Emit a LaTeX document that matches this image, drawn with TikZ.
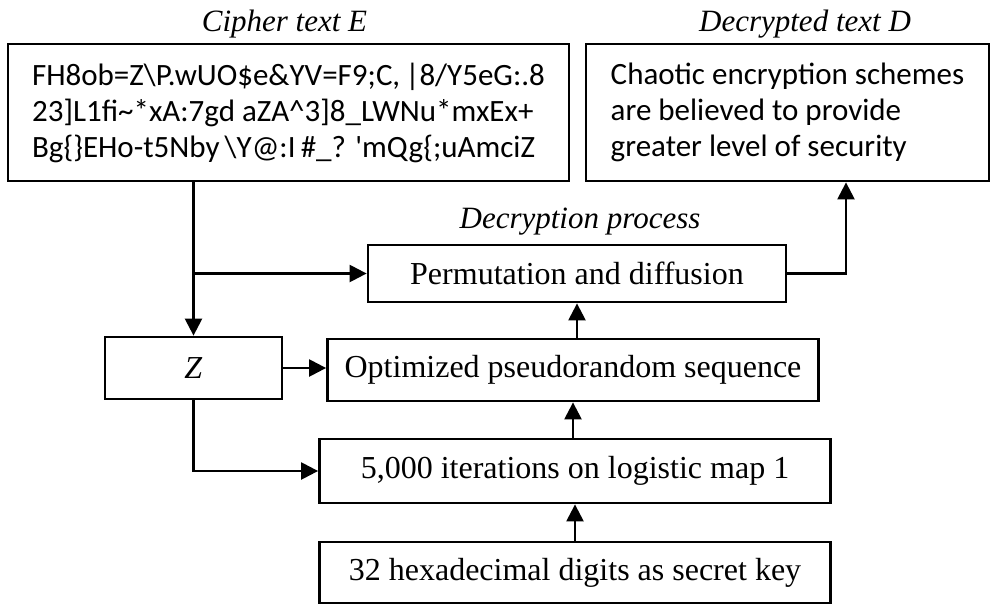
\documentclass[tikz,border=0pt]{standalone}
\usepackage{fontspec}
\setmainfont{Liberation Serif}
\newfontfamily\calfont{Carlito}
\usepackage{tikz}
\usetikzlibrary{positioning, arrows.meta, calc}

\tikzset{
  box/.style={draw, line width=2.8pt, inner sep=0pt, font=\fontsize{32}{36}\selectfont},
  txtbox/.style={box, align=left, font=\calfont\fontsize{31}{36}\selectfont},
  lbl/.style={font=\itshape\fontsize{31}{36}\selectfont, inner sep=0pt, anchor=base},
  arr/.style={line width=2.4pt, -{Triangle[length=17pt,width=17pt]}},
}

\begin{document}
\begin{tikzpicture}[x=1pt, y=-1pt]
                  \useasboundingbox (0,0) rectangle (999,611);
                  % Nodes
                  \node[txtbox, minimum width=561pt, minimum height=137pt] (cipher) at (288.5,112.5)
                    {FH8ob=Z\textbackslash P.wUO\$e\&YV=F9;C,\,|8/Y5eG:.8\\
                     23]L1fi\textasciitilde*xA:7gd aZA\textasciicircum 3]8\_LWNu*mxEx+\\
                     Bg\{\}EHo-t5Nby\,\textbackslash Y@:I\,\#\_? \textquotesingle mQg\{;uAmciZ};
                  \node[txtbox, minimum width=403pt, minimum height=137pt] (plain) at (787.5,112.5)
                    {Chaotic encryption schemes\\ are believed to provide\\ greater level of security};
                  \node[lbl] (cipherlbl) at (284.5,31) {Cipher text E};
                  \node[lbl] (plainlbl) at (805,31) {Decrypted text D};
                  \node[lbl] (proclbl) at (580,228) {Decryption process};
                  \node[box, minimum width=418pt, minimum height=57pt] (perm) at (577,273.5) {Permutation and diffusion};
                  \node[box, minimum width=177pt, minimum height=62pt] (zbox) at (193.5,368) {\textit{Z}};
                  \node[box, minimum width=491pt, minimum height=62pt] (seq) at (573,370) {Optimized pseudorandom sequence};
                  \node[box, minimum width=511pt, minimum height=64pt] (iter) at (575,471) {5,000 iterations on logistic map 1};
                  \node[box, minimum width=511pt, minimum height=61pt] (key) at (575,572.5) {32 hexadecimal digits as secret key};
                  \coordinate (split) at (zbox.north |- perm.west);
                  \coordinate (bend) at (846,273.5);

                  % Arrows
                  \draw[arr] (zbox.north |- cipher.south) -- (zbox.north);
                  \draw[arr] (split) -- (perm.west);
                  \draw[arr] (zbox.east) -- (zbox.east -| seq.west);
                  \draw[arr] (zbox.south) |- (iter.west);
                  \draw[arr] (perm.east) -- (bend) -- (bend |- plain.south);
                  \foreach \a/\b in {key/iter, iter/seq, seq/perm}
                  \draw[arr] (\b.south |- \a.north) -- (\b.south);
              \end{tikzpicture}
\end{document}
